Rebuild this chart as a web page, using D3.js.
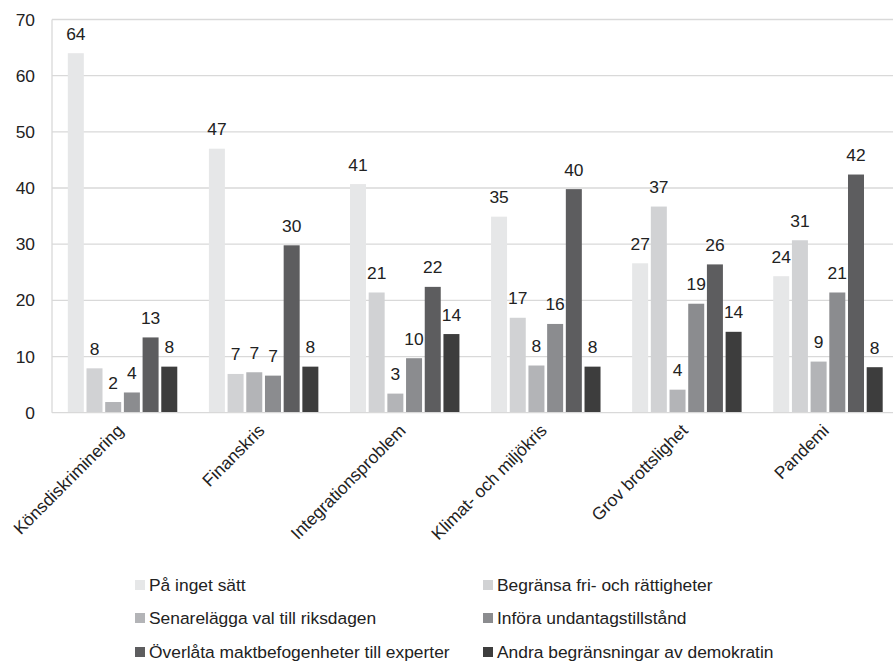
<!DOCTYPE html>
<html><head><meta charset="utf-8">
<script src="https://cdn.jsdelivr.net/npm/d3@7"></script>
<style>
html,body{margin:0;padding:0;background:#fff;}
svg{display:block;font-family:"Liberation Sans",Arial,sans-serif;}
</style></head>
<body>
<svg id="chart" width="893" height="662"></svg>
<script>
const categories = ["Könsdiskriminering","Finanskris","Integrationsproblem","Klimat- och miljökris","Grov brottslighet","Pandemi"];
const seriesNames = ["På inget sätt","Begränsa fri- och rättigheter","Senarelägga val till riksdagen","Införa undantagstillstånd","Överlåta maktbefogenheter till experter","Andra begränsningar av demokratin"];
const pInget      = [64.0, 47.0, 40.7, 34.9, 26.6, 24.3];
const begransa    = [7.9, 6.9, 21.4, 16.9, 36.7, 30.7];
const senarelagga = [1.9, 7.2, 3.4, 8.4, 4.1, 9.1];
const infora      = [3.6, 6.6, 9.7, 15.8, 19.4, 21.4];
const overlata    = [13.4, 29.8, 22.4, 39.8, 26.4, 42.4];
const andra       = [8.2, 8.2, 14.0, 8.2, 14.4, 8.1];
const seriesValues = [pInget, begransa, senarelagga, infora, overlata, andra];
const colors = ["#e6e7e8","#d1d2d4","#b3b4b7","#8b8c8f","#5d5d5f","#3d3d3d"];
const yTicks = [0,10,20,30,40,50,60,70];

(function(){
const FS = 17.4;
const svg = d3.select("#chart");
const mLeft = 52, mRight = 898.5, mTop = 19.5, mBottom = 412.7;

const x0 = d3.scaleBand().domain(categories).range([mLeft, mRight]).padding(0);
const gap = x0.bandwidth() * 0.1025;
const x1 = d3.scaleBand().domain(seriesNames).range([gap, x0.bandwidth() - gap])
  .paddingInner(0.144).paddingOuter(0.072);
const y = d3.scaleLinear().domain([0,70]).range([mBottom, mTop]);

svg.append("g").selectAll("line").data(yTicks.filter(d=>d>0)).join("line")
  .attr("x1", mLeft).attr("x2", mRight).attr("y1", d=>y(d)).attr("y2", d=>y(d))
  .attr("stroke", "#d9d9d9").attr("stroke-width", 1.3);
svg.append("line").attr("x1", mLeft).attr("x2", mLeft).attr("y1", y(70)).attr("y2", y(0))
  .attr("stroke", "#d9d9d9").attr("stroke-width", 1.3);

const yAxis = d3.axisLeft(y).tickValues(yTicks).tickSize(0).tickPadding(17);
const yg = svg.append("g").attr("transform", `translate(${mLeft},0)`).call(yAxis);
yg.select(".domain").remove();
yg.selectAll("text").attr("font-size", FS).attr("fill", "#222").attr("font-family", "Liberation Sans, Arial, sans-serif");

const groups = svg.append("g").selectAll("g").data(categories).join("g")
  .attr("transform", d => `translate(${x0(d)},0)`);
groups.each(function(cat, ci){
  const g = d3.select(this);
  seriesNames.forEach((s, si) => {
    const v = seriesValues[si][ci];
    g.append("rect").attr("x", x1(s)).attr("width", x1.bandwidth())
      .attr("y", y(v)).attr("height", y(0) - y(v)).attr("fill", colors[si]);
    g.append("text").attr("x", x1(s) + x1.bandwidth()/2).attr("y", y(v) - 13.5)
      .attr("text-anchor", "middle").attr("font-size", FS).attr("fill", "#222")
      .text(Math.round(v));
  });
});

svg.append("line").attr("x1", mLeft).attr("x2", mRight).attr("y1", y(0)).attr("y2", y(0))
  .attr("stroke", "#d9d9d9").attr("stroke-width", 1.3);

svg.append("g").selectAll("text").data(categories).join("text")
  .attr("transform", d => `translate(${x0(d) + x0.bandwidth()/2 + 2},${y(0) + 19}) rotate(-45)`)
  .attr("text-anchor", "end").attr("font-size", FS).attr("fill", "#222")
  .text(d => d);

const legendX = [135, 483];
const legendY = [585, 618, 652];
const lg = svg.append("g").selectAll("g").data(seriesNames).join("g")
  .attr("transform", (d,i) => `translate(${legendX[i%2]},${legendY[Math.floor(i/2)]})`);
lg.append("rect").attr("x", 0).attr("y", -5).attr("width", 10).attr("height", 10)
  .attr("fill", (d,i) => colors[i]);
lg.append("text").attr("x", 14).attr("y", 6).attr("font-size", FS).attr("fill", "#222")
  .text(d => d);
})();
</script>
</body></html>
